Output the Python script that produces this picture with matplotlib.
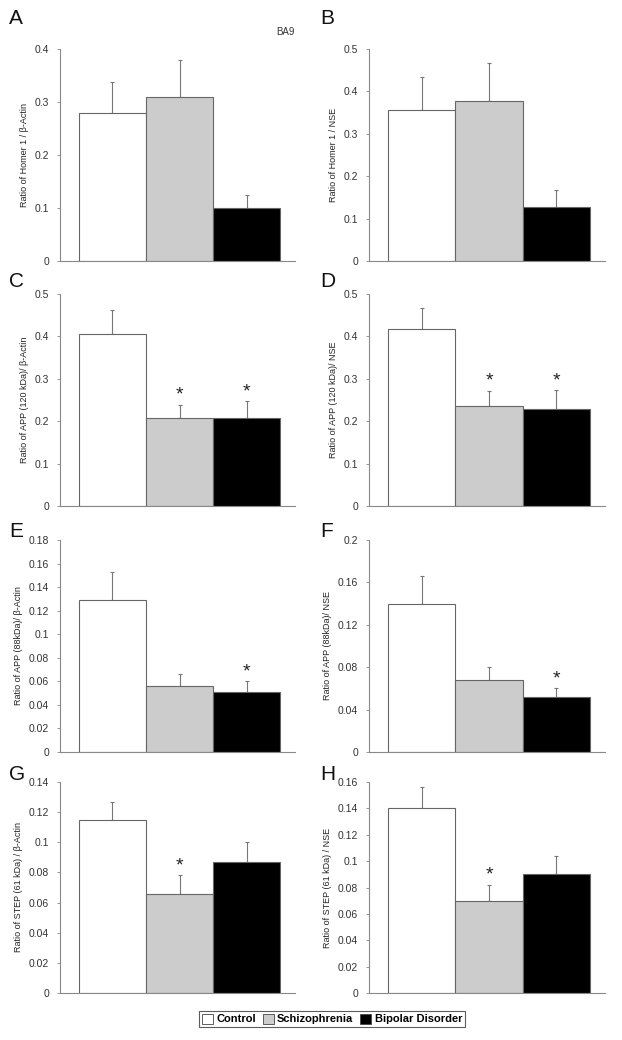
import matplotlib.pyplot as plt
from matplotlib.patches import Patch

plt.rcParams['font.family'] = ['Liberation Sans', 'DejaVu Sans']

groups = ['Control', 'Schizophrenia', 'Bipolar Disorder']
bar_colors = ['white', '#cccccc', 'black']

# panel letter, y label, means, upper error tops (mean + sem), y max, y step, stars
panel_letters = ['A', 'B', 'C', 'D', 'E', 'F', 'G', 'H']
ylabels = [
    'Ratio of Homer 1 / β-Actin',
    'Ratio of Homer 1 / NSE',
    'Ratio of APP (120 kDa)/ β-Actin',
    'Ratio of APP (120 kDa)/ NSE',
    'Ratio of APP (88kDa)/ β-Actin',
    'Ratio of APP (88kDa)/ NSE',
    'Ratio of STEP (61 kDa) / β-Actin',
    'Ratio of STEP (61 kDa) / NSE',
]
means = [
    [0.279, 0.309, 0.100],
    [0.355, 0.378, 0.128],
    [0.405, 0.207, 0.207],
    [0.417, 0.237, 0.228],
    [0.129, 0.056, 0.051],
    [0.140, 0.068, 0.052],
    [0.115, 0.066, 0.087],
    [0.140, 0.070, 0.090],
]
err_tops = [
    [0.338, 0.379, 0.125],
    [0.435, 0.466, 0.168],
    [0.462, 0.239, 0.247],
    [0.467, 0.272, 0.273],
    [0.153, 0.066, 0.060],
    [0.166, 0.080, 0.060],
    [0.127, 0.078, 0.100],
    [0.156, 0.082, 0.104],
]
ymax = [0.4, 0.5, 0.5, 0.5, 0.18, 0.2, 0.14, 0.16]
ystep = [0.1, 0.1, 0.1, 0.1, 0.02, 0.04, 0.02, 0.02]
stars = [
    [False, False, False],
    [False, False, False],
    [False, True, True],
    [False, True, True],
    [False, False, True],
    [False, False, True],
    [False, True, False],
    [False, True, False],
]

W, H = 622, 1040
fig = plt.figure(figsize=(W / 100, H / 100), dpi=100)

col_x = [(60, 295), (369, 605)]
row_y = [(49, 261), (294, 506), (540, 752), (782, 993)]
letter_x = [9, 320]
letter_y = [9, 272, 522, 765]

axis_gray = '#888888'

for i in range(8):
    r, c = divmod(i, 2)
    x0, x1 = col_x[c]
    yt, yb = row_y[r]
    ax = fig.add_axes([x0 / W, 1 - yb / H, (x1 - x0) / W, (yb - yt) / H])

    xs = list(range(3))
    m = means[i]
    e = [t - v for t, v in zip(err_tops[i], m)]
    ax.errorbar(xs, m, yerr=[[0, 0, 0], e], fmt='none', ecolor='#777777',
                elinewidth=0.8, capsize=1.5, capthick=0.8, zorder=1)
    ax.bar(xs, m, width=1.0, color=bar_colors, edgecolor='#666666',
           linewidth=0.8, zorder=2)
    for x, t, s in zip(xs, err_tops[i], stars[i]):
        if s:
            ax.text(x, t + ymax[i] * 0.005, '*', ha='center', va='bottom',
                    fontsize=14, color='#222222')

    ax.set_xlim(-0.78, 2.72)
    ax.set_ylim(0, ymax[i])
    n = int(round(ymax[i] / ystep[i]))
    ticks = [k * ystep[i] for k in range(n + 1)]
    ax.set_yticks(ticks)
    ax.set_yticklabels([f'{t:g}' for t in ticks])
    ax.set_xticks([])
    for side in ['top', 'right']:
        ax.spines[side].set_visible(False)
    for side in ['left', 'bottom']:
        ax.spines[side].set_color(axis_gray)
        ax.spines[side].set_linewidth(0.8)
    ax.tick_params(axis='y', length=2, width=0.6, color=axis_gray,
                   labelsize=7.5, labelcolor='#333333', pad=6)
    ax.set_ylabel(ylabels[i], fontsize=6.5, color='#222222', labelpad=4)

    fig.text(letter_x[c] / W, 1 - letter_y[r] / H, panel_letters[i],
             fontsize=15, ha='left', va='top', color='#111111')

fig.text(285 / W, 1 - 32 / H, 'BA9', fontsize=7, ha='center', va='center',
         color='#333333')

handles = [Patch(facecolor=col, edgecolor='#444444', linewidth=0.6)
           for col in bar_colors]
leg = fig.legend(handles, groups, loc='center', ncol=3,
                 bbox_to_anchor=(332 / W, 1 - 1019 / H), fontsize=8,
                 frameon=True, fancybox=False, edgecolor='#333333',
                 handlelength=1.0, handleheight=1.0, handletextpad=0.3,
                 columnspacing=0.6, borderpad=0.25, borderaxespad=0)
leg.get_frame().set_linewidth(0.8)
for t in leg.get_texts():
    t.set_fontweight('bold')

fig.savefig('out.png', dpi=100)
